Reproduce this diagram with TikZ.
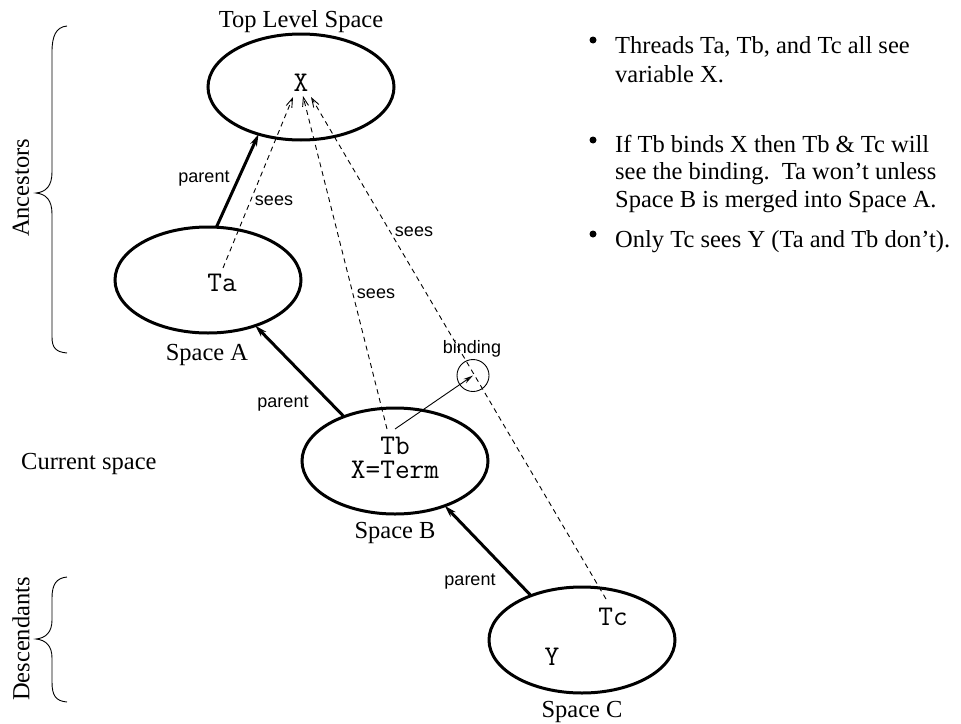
\documentclass[tikz,border=0pt]{standalone}
\usepackage{fontspec}
\setmainfont{Liberation Serif}
\setsansfont{Liberation Sans}
\usetikzlibrary{arrows.meta,shapes.geometric}
\begin{document}
\begin{tikzpicture}[x=1pt,y=-1pt,
  space/.style={ellipse,draw,line width=3pt,minimum width=186pt,minimum height=106pt,outer sep=0pt,inner sep=0pt},
  serif/.style={font=\fontsize{24.5}{27}\selectfont,inner sep=0pt},
  sanslbl/.style={font=\sffamily\fontsize{18}{20}\selectfont,inner sep=0pt},
  code/.style={font=\ttfamily\fontsize{28.5}{24}\selectfont,inner sep=0pt},
  parentarrow/.style={line width=3pt,-{Stealth[length=12pt,width=7pt]}},
  seesarrow/.style={line width=0.9pt,dash pattern=on 5pt off 4pt,-{Straight Barb[length=9pt,width=6pt]}},
  bindarrow/.style={line width=0.9pt,-{Stealth[open,length=10pt,width=5pt]}},
  bracestyle/.style={line width=0.9pt},
  bindcircle/.style={circle,draw,line width=0.9pt,minimum size=32pt,inner sep=0pt,outer sep=0pt}
]
\useasboundingbox (0,0) rectangle (961,723);
\fill[white] (0,0) rectangle (961,723);

% spaces
\node[space] (top) at (301,87) {};
\node[space] (spA) at (208,280) {};
\node[space] (spB) at (395,461) {};
\node[space] (spC) at (582,640) {};

% space labels
\node[serif,anchor=base] (ttop) at (301,27) {Top Level Space};
\node[serif,anchor=base] (tA) at (207,360) {Space A};
\node[serif,anchor=base] (tB) at (395,538) {Space B};
\node[serif,anchor=base] (tC) at (582,717) {Space C};

% contents
\node[code] (X) at (301,83) {X};
\node[code] (Ta) at (222,283) {Ta};
\node[code,align=center] (Tb) at (395,458) {Tb\\X=Term};
\node[code] (Tc) at (613,617) {Tc};
\node[code] (Y) at (552,657) {Y};

% binding circle
\node[bindcircle] (bind) at (473,375.5) {};

% coordinates for sees lines
\coordinate (ta0) at (223,268);
\coordinate (tb0) at (387,429);
\coordinate (tc0) at (606,599);
\coordinate (xa) at (293,97);
\coordinate (xb) at (303,96);
\coordinate (xc) at (311,97);
\coordinate (tbb) at (395,429);

% parent arrows
\draw[parentarrow] (spA.81.6) -- (top.228);
\draw[parentarrow] (spB.139.5) -- (spA.316);
\draw[parentarrow] (spC.139) -- (spB.318);

% sees arrows
\draw[seesarrow] (ta0) -- (xa);
\draw[seesarrow] (tb0) -- (xb);
\draw[seesarrow] (tc0) -- (xc);

% binding arrow
\draw[bindarrow] (tbb) -- (bind.center);

% labels
\node[sanslbl,anchor=base] (p1) at (204,182) {parent};
\node[sanslbl,anchor=base] (p2) at (283,407) {parent};
\node[sanslbl,anchor=base] (p3) at (470,585) {parent};
\node[sanslbl,anchor=base] (s1) at (274,205) {sees};
\node[sanslbl,anchor=base] (s2) at (376,298) {sees};
\node[sanslbl,anchor=base] (s3) at (414,236) {sees};
\node[sanslbl,anchor=base] (bl) at (472,353) {binding};

% left side
\node[serif,rotate=90] (anc) at (21,188) {Ancestors};
\node[serif,rotate=90] (desc) at (21,639) {Descendants};
\node[serif,anchor=base west] (cur) at (21,469) {Current space};
\draw[bracestyle] (67,26) .. controls (56,27) and (52,36) .. (52,52) -- (52,172) .. controls (52,186) and (46,192) .. (36,193) .. controls (46,194) and (52,200) .. (52,214) -- (52,337) .. controls (52,348) and (56,352) .. (67,353);
\draw[bracestyle] (67,577) .. controls (56,578) and (52,585) .. (52,598) -- (52,620) .. controls (52,632) and (46,638) .. (36,639) .. controls (46,640) and (52,646) .. (52,658) -- (52,682) .. controls (52,696) and (56,701) .. (67,702);

% bullets
\fill (593,40) circle (3.5);
\fill (593,140) circle (3.5);
\fill (593,234) circle (3.5);
\node[serif,anchor=base west] (b1a) at (615,53) {Threads Ta, Tb, and Tc all see};
\node[serif,anchor=base west] (b1b) at (615,82) {variable X.};
\node[serif,anchor=base west] (b2a) at (615,152) {If Tb binds X then Tb \& Tc will};
\node[serif,anchor=base west] (b2b) at (615,179) {see the binding.\ \ Ta won’t unless};
\node[serif,anchor=base west] (b2c) at (615,207) {Space B is merged into Space A.};
\node[serif,anchor=base west] (b3a) at (615,247) {Only Tc sees Y (Ta and Tb don’t).};
\end{tikzpicture}
\end{document}
